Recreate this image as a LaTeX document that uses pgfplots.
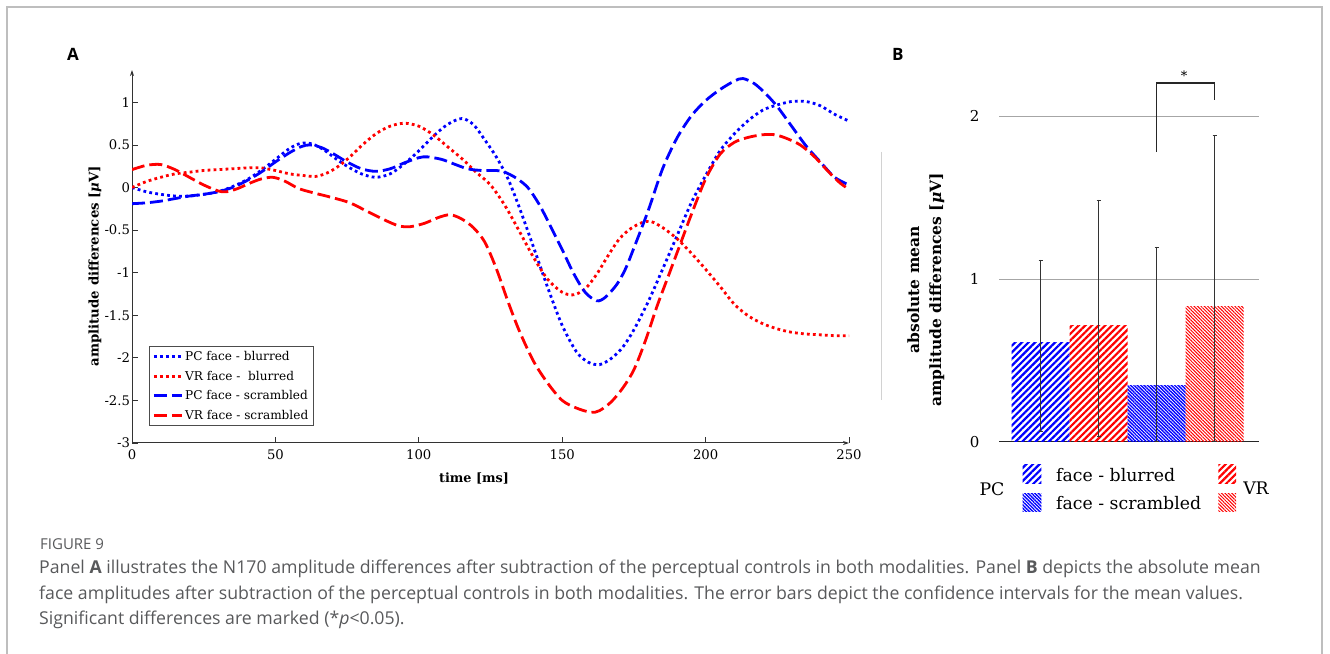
\documentclass[border=0pt]{standalone}
\usepackage{fontspec}
\setmainfont{DejaVu Serif}
\usepackage{pgfplots}
\usepackage{pgfplotstable}
\pgfplotsset{compat=1.18}
\usetikzlibrary{patterns.meta,arrows.meta}
\newfontfamily\capfont{Open Sans}
\definecolor{pblue}{RGB}{0,0,255}
\definecolor{pred}{RGB}{255,0,0}
\definecolor{capgray}{RGB}{88,89,91}
\definecolor{framegray}{RGB}{190,190,190}

\pgfplotstableread{
t v
0 0.00
5 -0.05
10 -0.08
15 -0.10
20 -0.10
25 -0.08
30 -0.05
35 0.01
40 0.09
45 0.20
50 0.33
55 0.46
59 0.52
63 0.51
67 0.44
71 0.34
75 0.25
80 0.16
85 0.12
90 0.16
95 0.28
100 0.43
105 0.60
110 0.74
115 0.81
119 0.74
123 0.56
127 0.36
131 0.11
135 -0.23
140 -0.70
145 -1.18
150 -1.62
155 -1.93
159 -2.05
163 -2.08
167 -2.01
171 -1.88
175 -1.67
180 -1.34
185 -0.96
190 -0.57
195 -0.18
200 0.14
205 0.43
210 0.63
215 0.79
220 0.91
225 0.97
230 1.01
235 1.01
240 0.96
245 0.86
250 0.78
}\pcblur

\pgfplotstableread{
t v
0 0.00
5 0.07
10 0.12
15 0.16
20 0.18
25 0.20
30 0.21
35 0.22
40 0.23
45 0.23
50 0.20
55 0.16
60 0.14
64 0.13
68 0.17
72 0.25
76 0.36
80 0.49
85 0.63
90 0.72
95 0.755
100 0.72
105 0.62
110 0.48
115 0.34
120 0.18
125 0.03
130 -0.21
135 -0.51
140 -0.82
145 -1.08
150 -1.23
154 -1.26
158 -1.19
162 -1.02
166 -0.80
170 -0.60
174 -0.48
178 -0.41
181 -0.40
185 -0.47
190 -0.60
195 -0.77
200 -0.96
205 -1.16
210 -1.37
215 -1.51
220 -1.60
225 -1.66
230 -1.70
235 -1.72
240 -1.73
245 -1.74
250 -1.74
}\vrblur

\pgfplotstableread{
t v
0 -0.19
5 -0.18
10 -0.16
15 -0.13
20 -0.10
25 -0.08
30 -0.05
35 0.00
40 0.08
45 0.18
50 0.30
55 0.41
59 0.48
62 0.50
66 0.47
70 0.40
75 0.30
80 0.22
85 0.19
90 0.22
95 0.29
100 0.35
103 0.36
108 0.33
112 0.28
117 0.22
122 0.20
127 0.20
130 0.18
134 0.11
138 0.00
142 -0.20
146 -0.46
150 -0.73
154 -1.01
158 -1.23
162 -1.33
165 -1.29
169 -1.14
172 -0.96
175 -0.71
180 -0.27
185 0.22
190 0.58
195 0.84
200 1.02
205 1.15
210 1.25
213 1.28
217 1.22
221 1.10
225 0.95
230 0.72
235 0.49
240 0.30
245 0.12
250 0.03
}\pcscr

\pgfplotstableread{
t v
0 0.21
5 0.26
10 0.27
15 0.21
20 0.12
25 0.03
30 -0.04
33 -0.05
37 -0.01
41 0.05
45 0.10
49 0.12
53 0.08
58 -0.01
63 -0.06
70 -0.12
76 -0.18
82 -0.28
88 -0.38
93 -0.45
97 -0.46
102 -0.42
107 -0.35
111 -0.32
115 -0.37
119 -0.47
123 -0.64
127 -0.95
131 -1.33
135 -1.68
140 -2.04
145 -2.30
150 -2.50
155 -2.59
160 -2.64
163 -2.62
167 -2.52
171 -2.36
175 -2.14
179 -1.80
183 -1.40
187 -1.04
191 -0.68
195 -0.32
200 0.10
205 0.39
210 0.53
215 0.59
220 0.62
224 0.62
228 0.58
233 0.50
238 0.36
243 0.18
247 0.05
250 -0.02
}\vrscr

\tikzset{
  dotsty/.style={line width=2.8pt, dash pattern=on 2.8pt off 3.2pt},
  dashsty/.style={line width=2.8pt, dash pattern=on 13pt off 5pt},
  widepat/.style={pattern={Lines[angle=45,distance=4.7pt,line width=2.2pt]}},
  densepat/.style={pattern={Lines[angle=-45,distance=2.4pt,line width=1.4pt]}},
  densepatr/.style={pattern={Lines[angle=-45,distance=2.4pt,line width=1.0pt]}},
}

\begin{document}
\begin{tikzpicture}
\path[use as bounding box] (0pt,0pt) rectangle (1330pt,653pt);
\draw[framegray, line width=1.5pt] (7pt,-10pt) -- (7pt,646pt) -- (1322pt,646pt) -- (1322pt,-10pt);
\draw[gray!35, line width=1pt] (881pt,501pt) -- (881pt,253pt);

\node[anchor=base west, inner sep=0pt, font=\capfont\bfseries\fontsize{17}{20}\selectfont] at (67pt,592pt) {A};
\node[anchor=base west, inner sep=0pt, font=\capfont\bfseries\fontsize{17}{20}\selectfont] at (892pt,592pt) {B};

% Panel A
\begin{axis}[
  at={(132pt,210pt)}, anchor=south west,
  scale only axis, width=717pt, height=373pt,
  xmin=0, xmax=250, ymin=-3, ymax=1.38,
  axis lines=left,
  axis line style={black!80, line width=1pt, -{Stealth[length=6pt,width=4pt]}},
  xtick={0,50,100,150,200,250},
  ytick={-3,-2.5,-2,-1.5,-1,-0.5,0,0.5,1},
  yticklabels={-3,-2.5,-2,-1.5,-1,-0.5,0,0.5,1},
  /pgf/number format/assume math mode=true,
  tick align=inside, major tick length=6pt,
  tick style={black!80, line width=0.8pt},
  ticklabel style={font=\fontsize{13.2}{15}\selectfont},
  yticklabel style={xshift=1.5pt},
  xticklabel style={yshift=-3pt},
  xlabel={\textbf{time [ms]}},
  xlabel style={at={(axis description cs:0.477,-0.094)}, anchor=center, font=\fontsize{12.8}{15}\selectfont},
  ylabel={\textbf{amplitude differences [\textit{μ}V]}},
  ylabel style={at={(axis description cs:-0.0516,0.4745)}, anchor=center, font=\fontsize{13.3}{15}\selectfont},
  legend style={at={(axis description cs:0.0237,0.0456)}, anchor=south west,
     draw=black!70, line width=0.8pt, font=\fontsize{12.1}{14}\selectfont,
     inner sep=3pt, row sep=4.8pt, cells={anchor=west}},
  legend image code/.code={\draw[#1] (0pt,0pt) -- (28pt,0pt);},
]
\addplot[pblue, dotsty, smooth] table[x=t,y=v] {\pcblur};
\addlegendentry{PC face - blurred}
\addplot[pred, dotsty, smooth] table[x=t,y=v] {\vrblur};
\addlegendentry{VR face - \ blurred}
\addplot[pblue, dashsty, smooth] table[x=t,y=v] {\pcscr};
\addlegendentry{PC face - scrambled}
\addplot[pred, dashsty, smooth] table[x=t,y=v] {\vrscr};
\addlegendentry{VR face - scrambled}
\end{axis}

% Panel B
\begin{axis}[
  at={(999pt,211.3pt)}, anchor=south west,
  scale only axis, width=260pt, height=382.3pt,
  xmin=-0.7155, xmax=3.767, ymin=0, ymax=2.35,
  axis x line*=bottom, axis y line*=left,
  x axis line style={black!85, line width=1.2pt, -},
  y axis line style={draw=none},
  xtick=\empty, ytick={0,1,2},
  /pgf/number format/assume math mode=true,
  major tick length=0pt,
  ymajorgrids, grid style={black!35, line width=0.9pt},
  yticklabel style={font=\fontsize{15}{18}\selectfont, xshift=-16pt},
  ylabel={\textbf{absolute mean}\\\textbf{amplitude differences [\textit{μ}V]}},
  ylabel style={at={(axis description cs:-0.281,0.397)}, anchor=center, align=center,
     font=\fontsize{15.5}{22}\selectfont},
  clip=false,
  error bars/y dir=both, error bars/y explicit,
  error bars/error bar style={black!80, line width=0.8pt},
  error bars/error mark options={black!80, line width=0.8pt, mark size=2pt, rotate=90},
]
\addplot[ybar, bar width=1, bar shift=0pt, draw=none, widepat, pattern color=pblue]
  coordinates {(0,0.608) +=(0,0.509) -=(0,0.547)};
\addplot[ybar, bar width=1, bar shift=0pt, draw=none, widepat, pattern color=pred]
  coordinates {(1,0.717) +=(0,0.769) -=(0,0.686)};
\addplot[ybar, bar width=1, bar shift=0pt, draw=none, densepat, pattern color=pblue]
  coordinates {(2,0.348) +=(0,0.849) -=(0,0.348)};
\addplot[ybar, bar width=1, bar shift=0pt, draw=none, densepatr, pattern color=pred]
  coordinates {(3,0.828) +=(0,1.057) -=(0,0.828)};
\addplot[black!85, line width=1.2pt] coordinates {(2,1.78) (2,2.205) (3,2.205) (3,2.10)};
\node[font=\fontsize{13}{15}\selectfont] at (axis cs:2.474,2.25) {*};
\end{axis}

% Panel B legend
\node[font=\fontsize{17.3}{20}\selectfont] at (992pt,164pt) {PC};
\fill[widepat, pattern color=pblue] (1022.7pt,169.7pt) rectangle (1041.3pt,188pt);
\fill[densepat, pattern color=pblue] (1022.7pt,141.3pt) rectangle (1041.3pt,159.7pt);
\node[anchor=base west, inner sep=0pt, font=\fontsize{17.3}{20}\selectfont] at (1056pt,171.3pt) {face - blurred};
\node[anchor=base west, inner sep=0pt, font=\fontsize{17.3}{20}\selectfont] at (1056pt,143.7pt) {face - scrambled};
\fill[widepat, pattern color=pred] (1218.3pt,169.7pt) rectangle (1236pt,188pt);
\fill[densepatr, pattern color=pred] (1218.3pt,141.3pt) rectangle (1236pt,159.7pt);
\node[font=\fontsize{17.3}{20}\selectfont] at (1256pt,165pt) {VR};

% Caption
\node[anchor=base west, inner sep=0pt, capgray, font=\capfont\fontsize{15}{18}\selectfont] at (40pt,103pt) {FIGURE 9};
\node[anchor=base west, inner sep=0pt, capgray, font=\capfont\fontsize{17.7}{20}\selectfont] at (39pt,79pt) {Panel \textbf{A} illustrates the N170 amplitude differences after subtraction of the perceptual controls in both modalities. Panel \textbf{B} depicts the absolute mean};
\node[anchor=base west, inner sep=0pt, capgray, font=\capfont\fontsize{17.7}{20}\selectfont] at (39pt,53pt) {face amplitudes after subtraction of the perceptual controls in both modalities. The error bars depict the confidence intervals for the mean values.};
\node[anchor=base west, inner sep=0pt, capgray, font=\capfont\fontsize{17.7}{20}\selectfont] at (39pt,28pt) {Significant differences are marked (*\textit{p}<0.05).};
\end{tikzpicture}
\end{document}
